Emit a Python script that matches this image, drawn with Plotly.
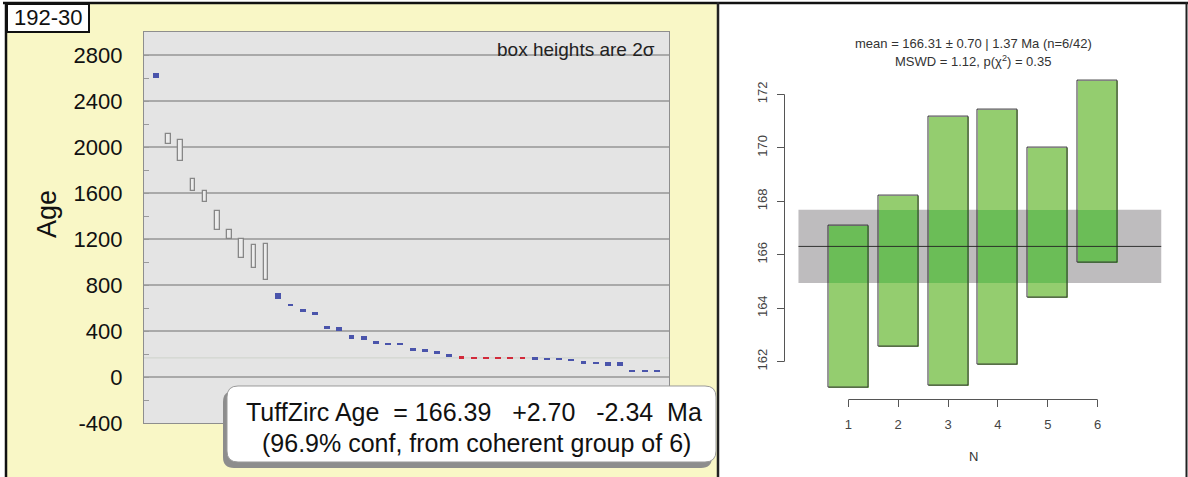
import plotly.graph_objects as go

W, H = 1188, 477


def px(x):
    return x / W


def py(y):
    return 1 - y / H


# ---------------- data: left panel (TuffZirc ranked ages) ----------------
grain_index = list(range(1, 43))
grain_age = [2625, 2070, 1968, 1671, 1568, 1362, 1236, 1117, 1048, 1000,
             705, 626, 580, 551, 429, 417, 350, 339, 301, 287,
             287, 235, 229, 209, 186, 169.1, 167.2, 166.6, 166.1, 165.4,
             164.1, 160, 157, 156, 148, 128, 122, 113, 113, 55,
             50, 50]
grain_half2s = [22, 43, 93, 51, 46, 81, 39, 80, 100, 154,
                25, 12, 12, 12, 12, 14, 16, 15, 12, 12,
                12, 13, 13, 13, 11, 11, 11, 11, 11, 11,
                11, 10, 10, 10, 11, 12, 12, 20, 20, 10,
                10, 10]
grain_status = ["blue"] + ["box"] * 9 + ["blue"] * 15 + ["red"] * 6 + ["blue"] * 11
y_ticks_left = [-400, 0, 400, 800, 1200, 1600, 2000, 2400, 2800]
tuffzirc_age = 166.39

# ---------------- data: right panel (weighted mean) ----------------
wm_n = [1, 2, 3, 4, 5, 6]
wm_mid = [164.06, 165.38, 166.15, 166.66, 167.20, 169.10]
wm_half = [3.02, 2.82, 5.03, 4.76, 2.80, 3.40]
wm_mean = 166.31
wm_err = 1.37
y_ticks_right = [162, 164, 166, 168, 170, 172]

# ---------------- styles ----------------
FONT = "Arial, Liberation Sans, Helvetica, sans-serif"
fill_map = {"box": "#ececec", "blue": "#4a54ab", "red": "#d22a3a"}
line_map = {"box": "#878787", "blue": "#4a54ab", "red": "#d22a3a"}
lw_map = {"box": 1.3, "blue": 0, "red": 0}
width_map = {"box": 0.38, "blue": 0.48, "red": 0.48}

fig = go.Figure()

# left panel bars (box heights = 2 sigma)
fig.add_trace(go.Bar(
    x=grain_index,
    y=[2 * e for e in grain_half2s],
    base=[a - e for a, e in zip(grain_age, grain_half2s)],
    width=[width_map[s] for s in grain_status],
    marker=dict(color=[fill_map[s] for s in grain_status],
                line=dict(color=[line_map[s] for s in grain_status],
                          width=[lw_map[s] for s in grain_status])),
    xaxis="x", yaxis="y", showlegend=False, hoverinfo="skip",
))

# right panel bars
lo = [m - h for m, h in zip(wm_mid, wm_half)]
hi = [m + h for m, h in zip(wm_mid, wm_half)]
band_lo, band_hi = wm_mean - wm_err, wm_mean + wm_err
ov_lo = [max(a, band_lo) for a in lo]
ov_hi = [min(b, band_hi) for b in hi]

fig.add_trace(go.Bar(
    x=wm_n, y=[b - a for a, b in zip(lo, hi)], base=lo, width=0.8,
    marker=dict(color="#94cd6f", line=dict(width=0)),
    xaxis="x2", yaxis="y2", showlegend=False, hoverinfo="skip"))
fig.add_trace(go.Bar(
    x=wm_n, y=[max(0, b - a) for a, b in zip(ov_lo, ov_hi)], base=ov_lo, width=0.8,
    marker=dict(color="#6bbd57", line=dict(width=0)),
    xaxis="x2", yaxis="y2", showlegend=False, hoverinfo="skip"))
fig.add_trace(go.Bar(
    x=wm_n, y=[b - a for a, b in zip(lo, hi)], base=lo, width=0.8,
    marker=dict(color="rgba(0,0,0,0)", line=dict(color="#2e2e2e", width=1)),
    xaxis="x2", yaxis="y2", showlegend=False, hoverinfo="skip"))

shapes = []
# yellow left panel
shapes.append(dict(type="rect", xref="paper", yref="paper", layer="below",
                   x0=px(6), x1=px(717), y0=py(477), y1=py(3),
                   fillcolor="#f9f7c6", line=dict(width=0)))
# grey plot area of left panel
shapes.append(dict(type="rect", xref="paper", yref="paper", layer="below",
                   x0=px(144), x1=px(669), y0=py(423), y1=py(32),
                   fillcolor="#e4e4e4", line=dict(width=0)))
# faint TuffZirc age line
shapes.append(dict(type="line", xref="x", yref="y", layer="below",
                   x0=0, x1=43, y0=tuffzirc_age, y1=tuffzirc_age,
                   line=dict(color="#d2d6cf", width=1.2)))
# right panel band + mean line
shapes.append(dict(type="rect", xref="x2", yref="y2", layer="below",
                   x0=0, x1=7.28, y0=band_lo, y1=band_hi,
                   fillcolor="#bebcbe", line=dict(width=0)))
shapes.append(dict(type="line", xref="x2", yref="y2", layer="above",
                   x0=0, x1=7.28, y0=wm_mean, y1=wm_mean,
                   line=dict(color="#222222", width=0.9)))
# right panel R-style axis lines
shapes.append(dict(type="line", xref="paper", yref="y2", layer="above",
                   x0=px(784.5), x1=px(784.5), y0=y_ticks_right[0], y1=y_ticks_right[-1],
                   line=dict(color="#555555", width=1)))
shapes.append(dict(type="line", xref="x2", yref="paper", layer="above",
                   x0=wm_n[0], x1=wm_n[-1], y0=py(399.5), y1=py(399.5),
                   line=dict(color="#555555", width=1)))
# frame lines
shapes.append(dict(type="line", xref="paper", yref="paper", layer="above",
                   x0=px(3), x1=px(1188), y0=py(3), y1=py(3),
                   line=dict(color="#111111", width=2.5)))
shapes.append(dict(type="line", xref="paper", yref="paper", layer="above",
                   x0=px(6), x1=px(6), y0=py(2), y1=py(477),
                   line=dict(color="#111111", width=2.5)))
shapes.append(dict(type="line", xref="paper", yref="paper", layer="above",
                   x0=px(718), x1=px(718), y0=py(2), y1=py(477),
                   line=dict(color="#222222", width=2.5)))
shapes.append(dict(type="line", xref="paper", yref="paper", layer="above",
                   x0=px(1186.5), x1=px(1186.5), y0=py(2), y1=py(477),
                   line=dict(color="#222222", width=2)))
# sample label box
shapes.append(dict(type="rect", xref="paper", yref="paper", layer="above",
                   x0=px(7), x1=px(89), y0=py(32), y1=py(4),
                   fillcolor="white", line=dict(color="#111111", width=2)))


def rrect(x0, y0, x1, y1, r):
    pts = [
        ("M", [(x0 + r, y0)]), ("L", [(x1 - r, y0)]), ("Q", [(x1, y0), (x1, y0 + r)]),
        ("L", [(x1, y1 - r)]), ("Q", [(x1, y1), (x1 - r, y1)]),
        ("L", [(x0 + r, y1)]), ("Q", [(x0, y1), (x0, y1 - r)]),
        ("L", [(x0, y0 + r)]), ("Q", [(x0, y0), (x0 + r, y0)]),
    ]
    s = ""
    for cmd, ps in pts:
        s += cmd + " " + " ".join(f"{px(a):.5f},{py(b):.5f}" for a, b in ps) + " "
    return s + "Z"


# callout shadow + box
shapes.append(dict(type="path", xref="paper", yref="paper", layer="above",
                   path=rrect(223, 391, 712, 468, 11),
                   fillcolor="#8d8d8d", line=dict(width=0)))
shapes.append(dict(type="path", xref="paper", yref="paper", layer="above",
                   path=rrect(227, 386, 716, 462, 11),
                   fillcolor="white", line=dict(color="#9a9a9a", width=1)))

NB = "\u00a0"
annotations = [
    dict(text="192-30", x=px(48), y=py(18), xref="paper", yref="paper",
         showarrow=False, font=dict(family=FONT, size=22, color="#111111"),
         xanchor="center", yanchor="middle"),
    dict(text="Age", x=px(47), y=py(214), xref="paper", yref="paper",
         showarrow=False, textangle=-90, font=dict(family=FONT, size=27, color="#111111"),
         xanchor="center", yanchor="middle"),
    dict(text="box heights are 2σ", x=px(657), y=py(49), xref="paper", yref="paper",
         showarrow=False, font=dict(family=FONT, size=19, color="#222222"),
         xanchor="right", yanchor="middle"),
    dict(text=f"TuffZirc Age{NB}{NB}= 166.39{NB}{NB}{NB}+2.70{NB}{NB}{NB}-2.34{NB}{NB}Ma",
         x=px(474), y=py(412), xref="paper", yref="paper", showarrow=False,
         font=dict(family=FONT, size=25, color="#111111"), xanchor="center", yanchor="middle"),
    dict(text="(96.9% conf, from coherent group of 6)",
         x=px(476), y=py(443), xref="paper", yref="paper", showarrow=False,
         font=dict(family=FONT, size=25, color="#111111"), xanchor="center", yanchor="middle"),
    dict(text=f"mean = {wm_mean:.2f} ± 0.70 | {wm_err:.2f} Ma (n=6/42)",
         x=px(973), y=py(43), xref="paper", yref="paper", showarrow=False,
         font=dict(family=FONT, size=13, color="#333333"), xanchor="center", yanchor="middle"),
    dict(text="MSWD = 1.12, p(χ<sup>2</sup>) = 0.35",
         x=px(973), y=py(61), xref="paper", yref="paper", showarrow=False,
         font=dict(family=FONT, size=13, color="#333333"), xanchor="center", yanchor="middle"),
    dict(text="N", x=px(973), y=py(456), xref="paper", yref="paper", showarrow=False,
         font=dict(family=FONT, size=13, color="#333333"), xanchor="center", yanchor="middle"),
]

fig.update_layout(
    width=W, height=H,
    autosize=False,
    margin=dict(l=0, r=0, t=0, b=0, pad=0, autoexpand=False),
    paper_bgcolor="white",
    plot_bgcolor="rgba(0,0,0,0)",
    barmode="overlay",
    bargap=0,
    shapes=shapes,
    annotations=annotations,
    xaxis=dict(domain=[px(144), px(669)], range=[0, 43], showticklabels=False,
               showgrid=False, zeroline=False, ticks="", showline=True, mirror=True,
               linecolor="#8e8e8e", linewidth=1.3, anchor="y", automargin=False),
    yaxis=dict(domain=[py(423), py(32)], range=[-400, 3000], tickvals=y_ticks_left,
               ticktext=[str(v) for v in y_ticks_left],
               ticks="inside", ticklen=5, tickcolor="#9a9a9a",
               minor=dict(dtick=200, tick0=-400, ticks="inside", ticklen=5,
                          tickcolor="#9a9a9a", showgrid=False),
               showgrid=True, gridcolor="#a9a9a9", gridwidth=1.5, zeroline=False,
               showline=True, mirror=True, linecolor="#8e8e8e", linewidth=1.3,
               tickfont=dict(family=FONT, size=22, color="#111111"),
               ticklabelstandoff=16, anchor="x", automargin=False),
    xaxis2=dict(domain=[px(784.5), px(1161.5)], range=[-0.28, 7.28], tickvals=wm_n,
                ticks="outside", ticklen=7, tickcolor="#555555", showgrid=False,
                zeroline=False, showline=False,
                tickfont=dict(family=FONT, size=13, color="#444444"),
                ticklabelstandoff=6, anchor="y2", automargin=False),
    yaxis2=dict(domain=[py(399.1), py(68.6)], range=[160.6, 172.96], tickvals=y_ticks_right,
                ticks="outside", ticklen=7, tickcolor="#555555", showgrid=False,
                zeroline=False, showline=False, tickangle=-90,
                tickfont=dict(family=FONT, size=13, color="#444444"),
                ticklabelstandoff=4, anchor="x2", automargin=False),
)

fig.write_html("out.html",
               config={"responsive": False, "displayModeBar": False},
               post_script="document.body.style.margin='0';document.body.style.overflow='hidden';")
